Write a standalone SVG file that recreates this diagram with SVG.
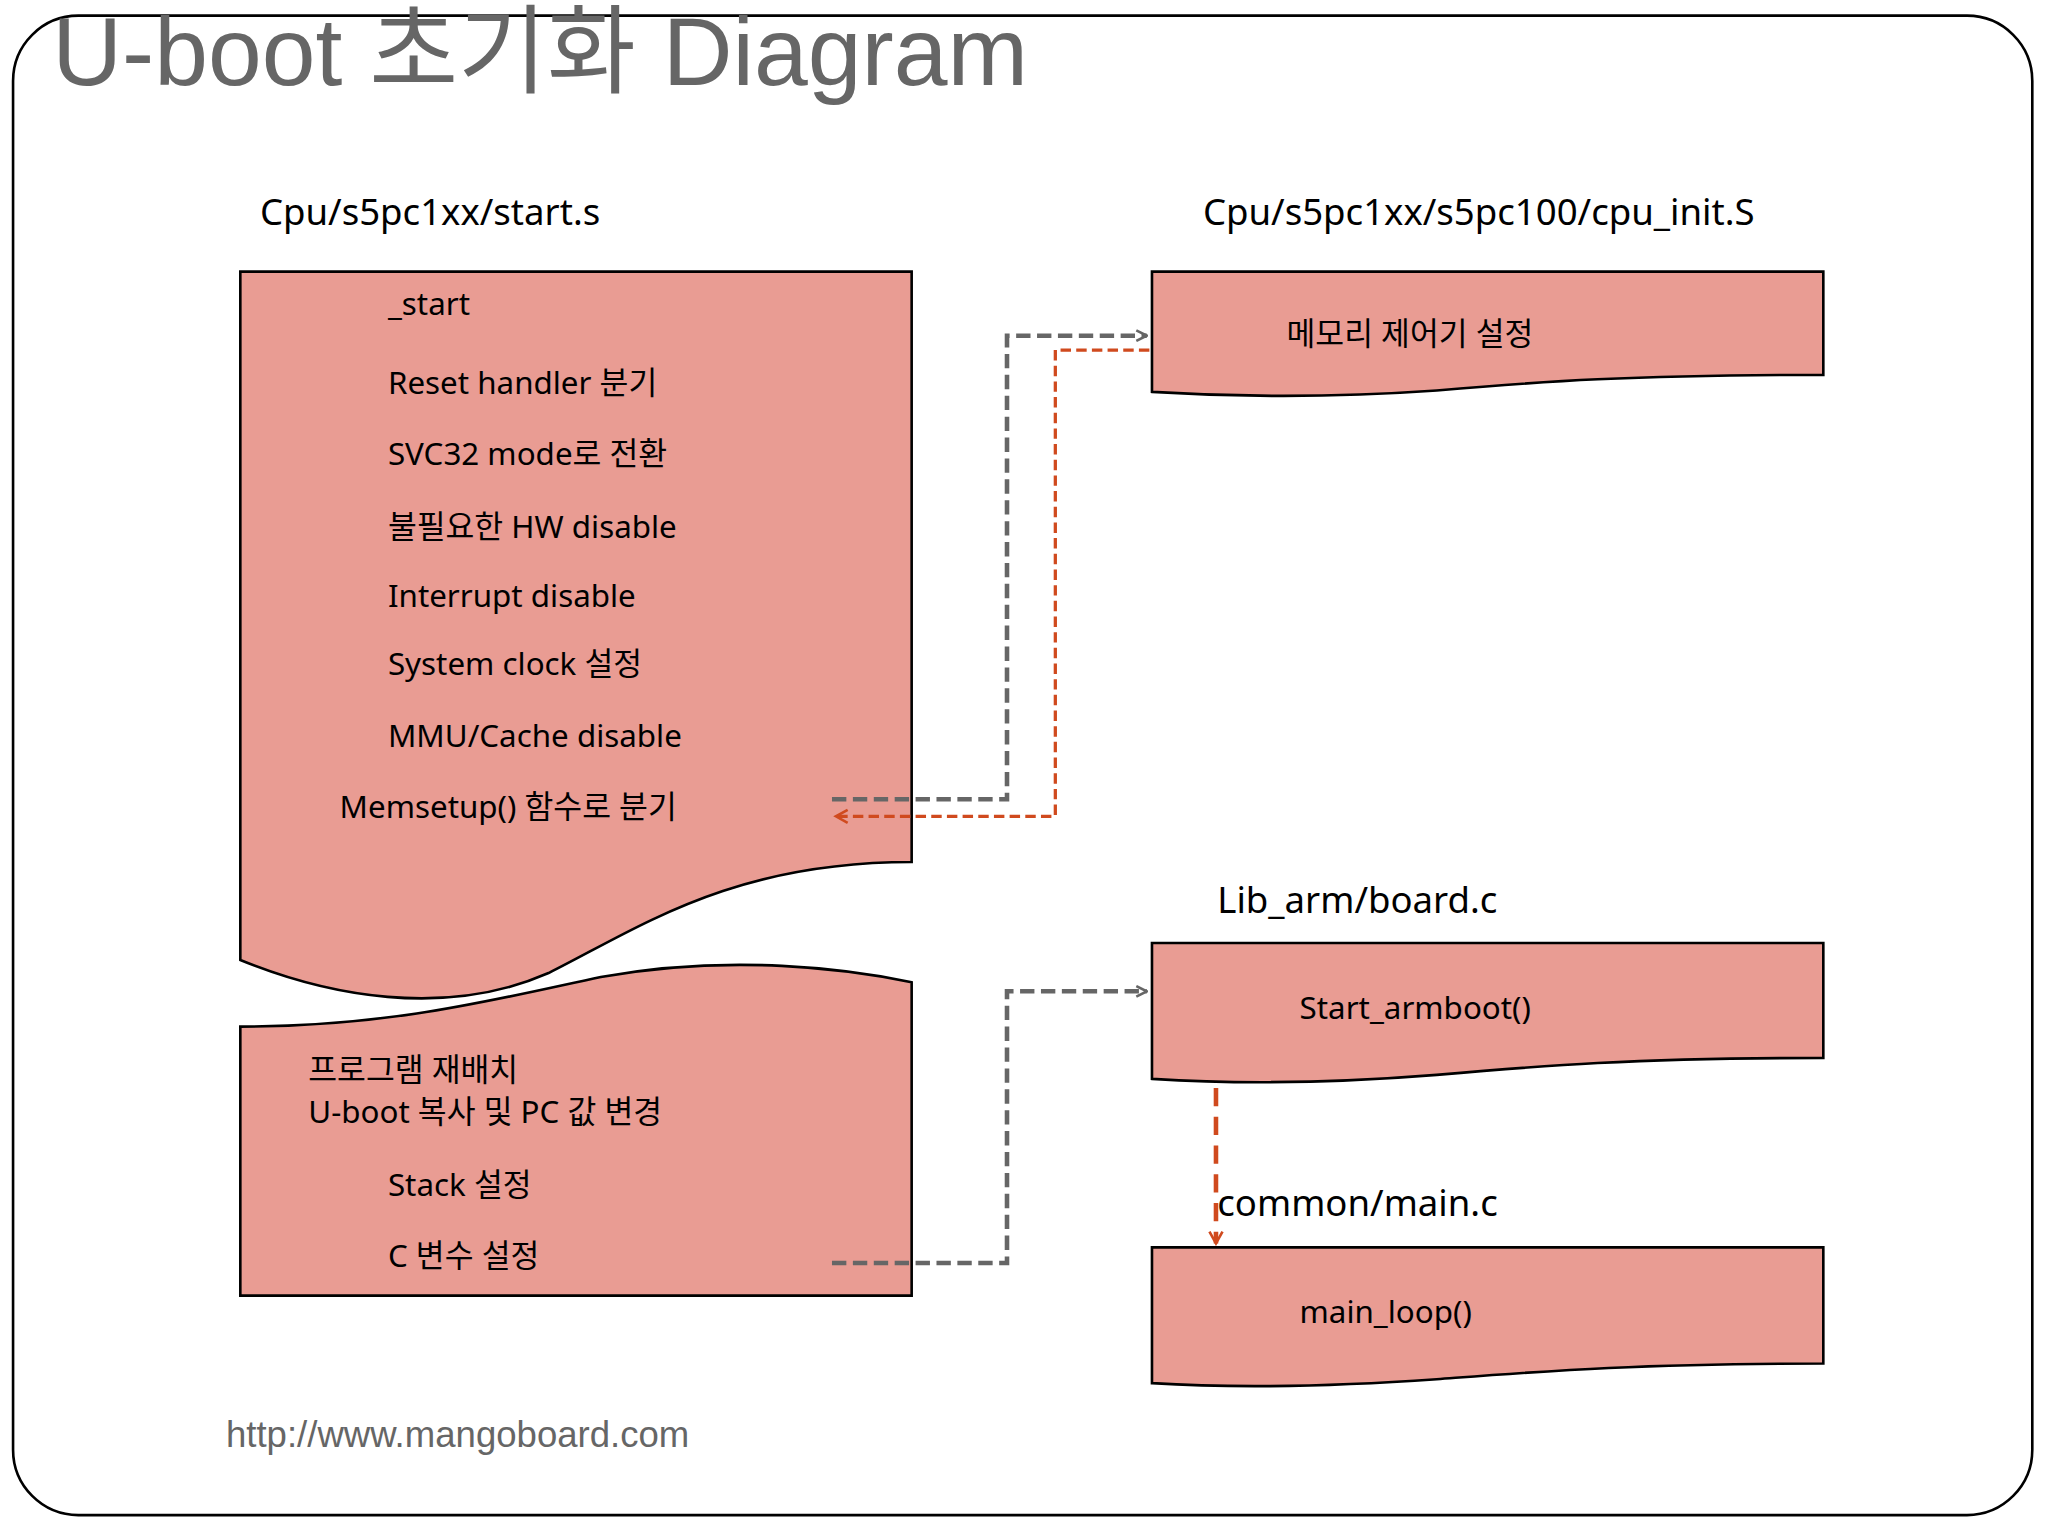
<svg xmlns="http://www.w3.org/2000/svg" width="2048" height="1536" viewBox="0 0 2048 1536">
<style>
.doc{fill:#E99C93;stroke:#000;stroke-width:2}
.t{font-family:"Noto Sans","Noto Sans CJK KR",sans-serif;font-size:24px;fill:#000}
.h{font-family:"Noto Sans","Noto Sans CJK KR",sans-serif;font-size:28px;fill:#000}
.g{fill:none;stroke:#666;stroke-width:3.5;stroke-dasharray:11,5}
.o{fill:none;stroke:#D04A1E;stroke-width:2.5;stroke-dasharray:8,4}
</style>
<defs>
<marker id="ag" markerWidth="10" markerHeight="10" refX="9" refY="5" orient="auto" markerUnits="userSpaceOnUse" viewBox="0 0 10 10"><path d="M1,1 L9,5 L1,9" fill="none" stroke="#666" stroke-width="2"/></marker>
<marker id="ao" markerWidth="12" markerHeight="12" refX="10" refY="6" orient="auto" markerUnits="userSpaceOnUse" viewBox="0 0 12 12"><path d="M1,1 L10,6 L1,11" fill="none" stroke="#D04A1E" stroke-width="2"/></marker>
</defs>
<rect width="2048" height="1536" fill="#fff"/>
<g transform="scale(1.3061)">
<rect x="10" y="12" width="1546" height="1148" rx="50" fill="#fff" stroke="#000" stroke-width="2"/>
<text x="40" y="65" font-family="Liberation Sans,'Noto Sans CJK KR',sans-serif" font-size="74" fill="#666">U-boot  초기화  Diagram</text>
<text class="h" x="199" y="172">Cpu/s5pc1xx/start.s</text>
<text class="h" x="921" y="172">Cpu/s5pc1xx/s5pc100/cpu_init.S</text>
<text class="h" x="932" y="699">Lib_arm/board.c</text>
<text x="173" y="1108" font-family="Liberation Sans,sans-serif" font-size="28" fill="#666">http://www.mangoboard.com</text>
<g id="start1">
<path class="doc" d="M184,208 H698 V660 C560,660 490,710 420,745 C340,780 250,762 184,735 Z"/>
<text class="t" x="297" y="241">_start</text>
<text class="t" x="297" y="302">Reset handler 분기</text>
<text class="t" x="297" y="356">SVC32 mode로 전환</text>
<text class="t" x="297" y="412">불필요한 HW disable</text>
<text class="t" x="297" y="465">Interrupt disable</text>
<text class="t" x="297" y="517">System clock 설정</text>
<text class="t" x="297" y="572">MMU/Cache disable</text>
<text class="t" x="260" y="626">Memsetup()  함수로 분기</text>
</g>
<g id="start2">
<path class="doc" d="M184,786 C300,786 380,765 460,748 C560,730 650,742 698,752 V992 H184 Z"/>
<text class="t" x="236" y="828">프로그램 재배치</text>
<text class="t" x="236" y="860">U-boot 복사 및 PC 값 변경</text>
<text class="t" x="297" y="916">Stack 설정</text>
<text class="t" x="297" y="970">C 변수 설정</text>
</g>
<g id="cpuinit">
<path class="doc" d="M882,208 H1396 V287 C1250,287 1180,292 1100,299 C1000,306 930,303 882,300 Z"/>
<text class="t" x="985" y="264">메모리 제어기 설정</text>
</g>
<g id="board">
<path class="doc" d="M882,722 H1396 V810 C1250,810 1180,816 1100,823 C1000,831 930,829 882,826 Z"/>
<text class="t" x="995" y="780">Start_armboot()</text>
</g>
<text class="h" x="932" y="931">common/main.c</text>
<g id="main">
<path class="doc" d="M882,955 H1396 V1044 C1250,1044 1180,1050 1100,1056 C1000,1063 930,1062 882,1059 Z"/>
<text class="t" x="995" y="1013">main_loop()</text>
</g>
<g id="connectors">
<path class="g" d="M637,612 H771 V257 H878" marker-end="url(#ag)"/>
<path class="o" d="M880,268 H808 V625 H640" marker-end="url(#ao)"/>
<path class="g" d="M637,967 H771 V759 H878" marker-end="url(#ag)"/>
<path d="M931,833 V952" fill="none" stroke="#D04A1E" stroke-width="3.5" stroke-dasharray="14,8" marker-end="url(#ao)"/>
</g>
</g>
</svg>
